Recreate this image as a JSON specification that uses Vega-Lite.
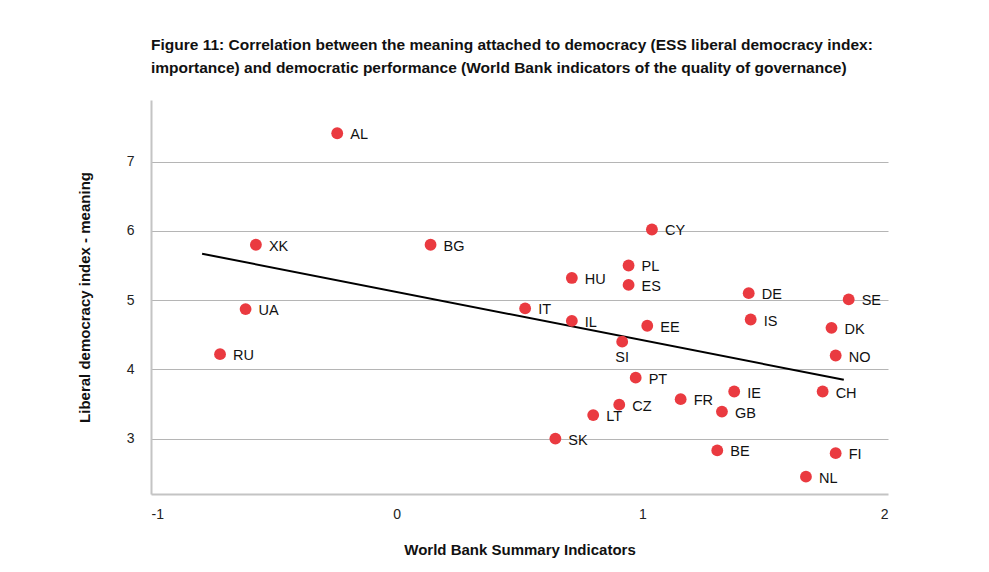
{
  "$schema": "https://vega.github.io/schema/vega-lite/v6.json",
  "autosize": "none",
  "width": 737,
  "height": 394,
  "padding": {"left": 151, "top": 100, "right": 101, "bottom": 78},
  "background": "white",
  "title": {
    "text": ["Figure 11: Correlation between the meaning attached to democracy (ESS liberal democracy index:", "importance) and democratic performance (World Bank indicators of the quality of governance)"],
    "anchor": "start",
    "frame": "group",
    "font": "Liberation Sans",
    "fontSize": 15.5,
    "fontWeight": "bold",
    "color": "#111",
    "lineHeight": 23,
    "offset": 24
  },
  "datasets": {
    "pts": [
      {"c": "AL", "x": -0.242, "y": 7.41},
      {"c": "XK", "x": -0.573, "y": 5.80},
      {"c": "BG", "x": 0.138, "y": 5.80},
      {"c": "UA", "x": -0.615, "y": 4.87},
      {"c": "RU", "x": -0.719, "y": 4.22},
      {"c": "IT", "x": 0.523, "y": 4.88},
      {"c": "CY", "x": 1.039, "y": 6.02},
      {"c": "PL", "x": 0.944, "y": 5.50},
      {"c": "HU", "x": 0.713, "y": 5.32},
      {"c": "ES", "x": 0.944, "y": 5.22},
      {"c": "DE", "x": 1.433, "y": 5.10},
      {"c": "SE", "x": 1.840, "y": 5.01},
      {"c": "IL", "x": 0.713, "y": 4.70},
      {"c": "EE", "x": 1.020, "y": 4.63},
      {"c": "IS", "x": 1.441, "y": 4.72},
      {"c": "DK", "x": 1.770, "y": 4.60},
      {"c": "SI", "x": 0.918, "y": 4.40},
      {"c": "NO", "x": 1.787, "y": 4.20},
      {"c": "PT", "x": 0.973, "y": 3.88},
      {"c": "IE", "x": 1.374, "y": 3.68},
      {"c": "CH", "x": 1.734, "y": 3.68},
      {"c": "FR", "x": 1.156, "y": 3.57},
      {"c": "CZ", "x": 0.906, "y": 3.49},
      {"c": "GB", "x": 1.324, "y": 3.39},
      {"c": "LT", "x": 0.800, "y": 3.34},
      {"c": "SK", "x": 0.646, "y": 3.00},
      {"c": "BE", "x": 1.305, "y": 2.83},
      {"c": "FI", "x": 1.787, "y": 2.79},
      {"c": "NL", "x": 1.666, "y": 2.45}
    ],
    "trend": [
      {"x": -0.792, "y": 5.67},
      {"x": 1.820, "y": 3.85}
    ]
  },
  "encoding": {
    "x": {
      "field": "x", "type": "quantitative",
      "scale": {"domain": [-1, 2], "nice": false, "zero": false},
      "axis": {
        "title": "World Bank Summary Indicators",
        "values": [-1, 0, 1, 2],
        "labelExpr": "replace(datum.label, '−', '-')",
        "grid": false, "ticks": false,
        "domainColor": "#c4c4c4", "domainWidth": 2,
        "labelFont": "Liberation Sans", "labelFontSize": 14, "labelColor": "#222",
        "labelPadding": 13,
        "titleFont": "Liberation Sans", "titleFontSize": 15, "titleFontWeight": "bold", "titleColor": "#111",
        "titlePadding": 21
      }
    },
    "y": {
      "field": "y", "type": "quantitative",
      "scale": {"domain": [2.2, 7.89], "nice": false, "zero": false},
      "axis": {
        "title": "Liberal democracy index - meaning",
        "values": [3, 4, 5, 6, 7],
        "grid": true, "gridColor": "#b5b5b5", "gridWidth": 1,
        "ticks": false,
        "domainColor": "#c4c4c4", "domainWidth": 2,
        "labelFont": "Liberation Sans", "labelFontSize": 14, "labelColor": "#222",
        "labelPadding": 17,
        "titleFont": "Liberation Sans", "titleFontSize": 15, "titleFontWeight": "bold", "titleColor": "#111",
        "titlePadding": 34
      }
    }
  },
  "layer": [
    {
      "data": {"name": "trend"},
      "mark": {"type": "line", "color": "#000", "strokeWidth": 2}
    },
    {
      "data": {"name": "pts"},
      "mark": {"type": "circle", "color": "#EA3A40", "opacity": 1, "size": 140}
    },
    {
      "data": {"name": "pts"},
      "transform": [{"filter": "datum.c != 'SI'"}],
      "mark": {"type": "text", "align": "left", "baseline": "middle", "dx": 13, "dy": 2, "font": "Liberation Sans", "fontSize": 14.5, "color": "#111"},
      "encoding": {"text": {"field": "c"}}
    },
    {
      "data": {"name": "pts"},
      "transform": [{"filter": "datum.c == 'SI'"}],
      "mark": {"type": "text", "align": "center", "baseline": "middle", "dx": 0, "dy": 16, "font": "Liberation Sans", "fontSize": 14.5, "color": "#111"},
      "encoding": {"text": {"field": "c"}}
    }
  ],
  "config": {"view": {"stroke": null}}
}
